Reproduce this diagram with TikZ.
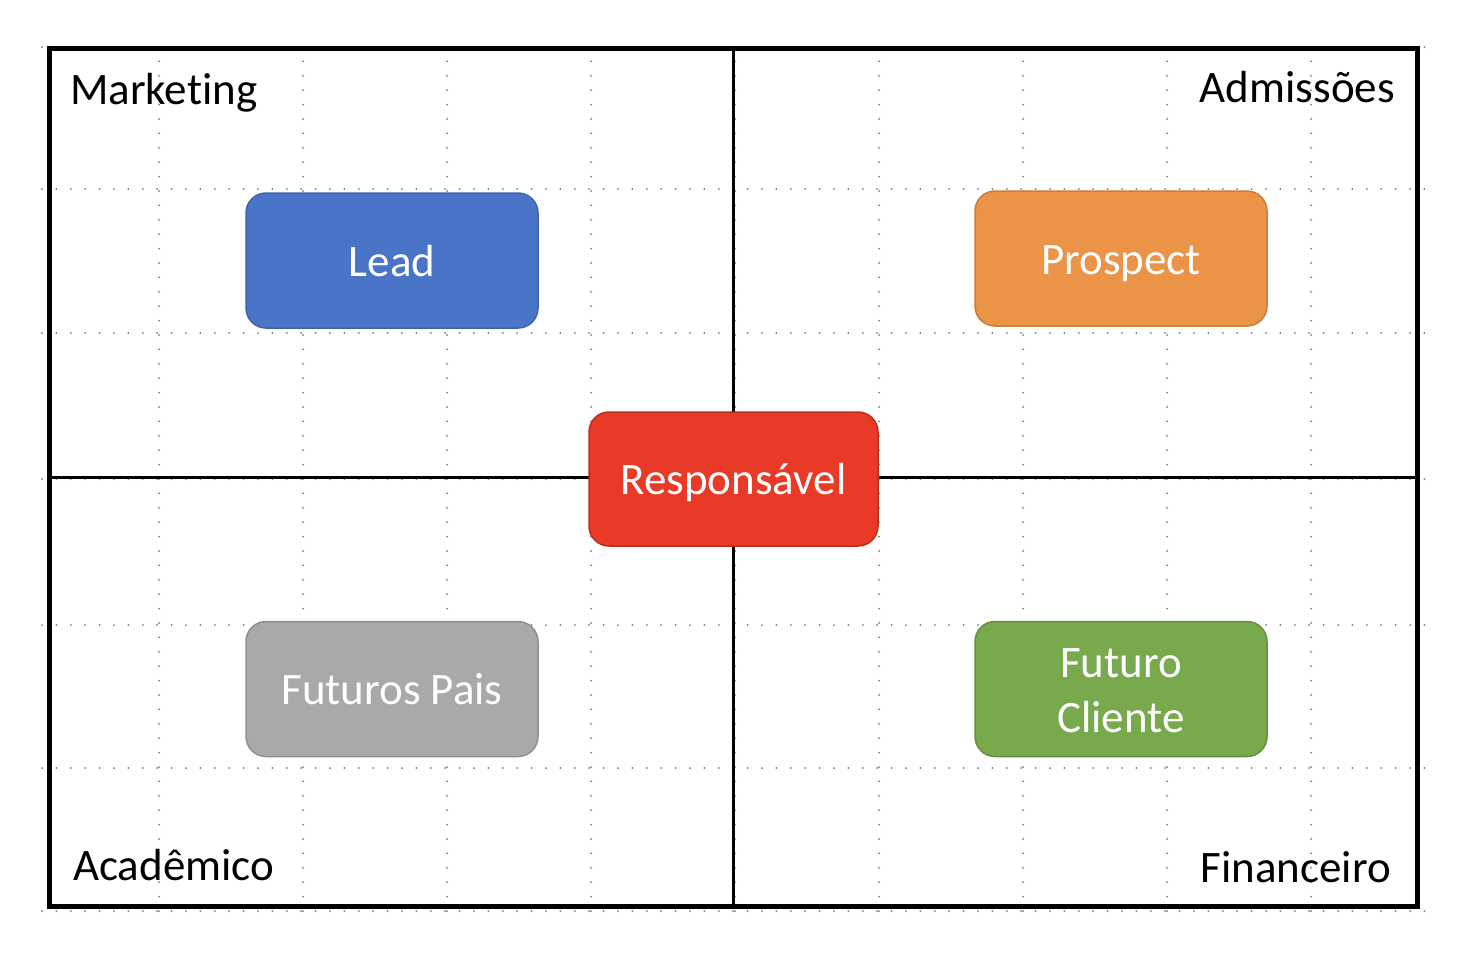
\documentclass[tikz,border=0pt]{standalone}
\usepackage{fontspec}
\setmainfont[Ligatures=NoCommon]{Carlito}
\definecolor{cblue}{HTML}{4A74C8}
\definecolor{corange}{HTML}{EB9347}
\definecolor{cred}{HTML}{E83A26}
\definecolor{cgray}{HTML}{A9A9A9}
\definecolor{cgreen}{HTML}{78A94C}
\definecolor{gridc}{HTML}{7A7A7A}
\tikzset{
  gridline/.style={draw=gridc, line width=2pt, line cap=round, dash pattern=on 0pt off 14.4pt},
  frameline/.style={draw=black, line width=5pt},
  crossline/.style={draw=black, line width=3pt},
  box/.style={rectangle, rounded corners=20pt, minimum width=292pt, minimum height=135pt,
    text=white, align=center, font=\fontsize{45}{55}\selectfont, line width=1.5pt, inner sep=0pt,
    text height=31pt, text depth=0pt},
  lbl/.style={text=black, font=\fontsize{45}{54}\selectfont, inner sep=0pt}
}
\begin{document}
\begin{tikzpicture}[x=1pt,y=-1pt]
\useasboundingbox (0,0) rectangle (1476,956);
\fill[white] (0,0) rectangle (1476,956);
% dotted grid
\foreach \yy in {47,189,333,479,625,768,911}
  \draw[gridline] (42,\yy) -- (1426,\yy);
\foreach \xx in {159,303,447,591,735,879,1023,1167,1311}
  \draw[gridline] (\xx,47) -- (\xx,911);
% frame
\node[draw=black, line width=5pt, minimum width=1368pt, minimum height=858pt, inner sep=0pt] (frame) at (733.5,477.5) {};
% boxes
\node[box, fill=cblue, draw=cblue!85!black] (lead) at (392,260.5) {Lead};
\node[box, fill=corange, draw=corange!85!black] (prospect) at (1121,258.5) {Prospect};
\node[box, fill=cgray, draw=cgray!85!black] (pais) at (392,689) {Futuros Pais};
\node[box, fill=cgreen, draw=cgreen!85!black, text height=86pt] (cliente) at (1121,689) {Futuro\\Cliente};
% cross lines
\draw[crossline] (frame.north) -- (frame.south);
\draw[crossline] (frame.west) -- (frame.east);
\node[box, fill=cred, draw=cred!80!black, minimum width=289pt, minimum height=134pt] (resp) at (733.5,479) {Responsável};
% labels
\node[lbl, anchor=base west] (mkt) at (70,104) {Marketing};
\node[lbl, anchor=base east] (adm) at (1395,102) {Admissões};
\node[lbl, anchor=base west] (acad) at (73,880) {Acadêmico};
\node[lbl, anchor=base east] (fin) at (1391,882) {Financeiro};
\end{tikzpicture}
\end{document}
